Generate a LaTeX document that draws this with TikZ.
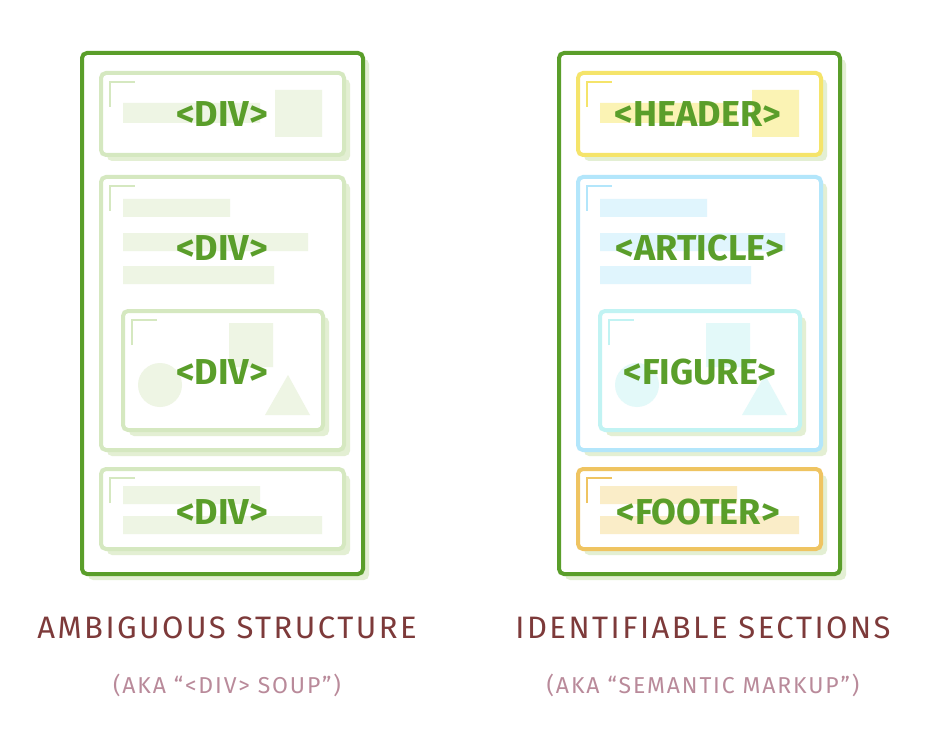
\documentclass[tikz,border=0pt]{standalone}
\usepackage{fontspec}
\setmainfont{Fira Sans}
\newfontfamily\capfont[LetterSpace=8]{Fira Sans}
\tikzset{x=1pt,y=-1pt}
\definecolor{og}{HTML}{5A9E2A}
\definecolor{sh}{HTML}{E3EFD3}
\definecolor{gb}{HTML}{D5E8C0}\definecolor{gf}{HTML}{EEF5E4}
\definecolor{yb}{HTML}{F5E46A}\definecolor{yf}{HTML}{FBF3B4}
\definecolor{bb}{HTML}{B3E6FB}\definecolor{bf}{HTML}{E0F5FD}
\definecolor{cb}{HTML}{C1F3F3}\definecolor{cf}{HTML}{E3F9F9}
\definecolor{ob}{HTML}{EFC461}\definecolor{of}{HTML}{FAEDC8}
\definecolor{cap}{HTML}{7D3A3A}\definecolor{sub}{HTML}{B98A9A}
\tikzset{
 tag/.style={text=og,font=\fontsize{36}{36}\selectfont\bfseries},
 ttl/.style={text=cap,font=\capfont\fontsize{31}{31}\selectfont},
 subt/.style={text=sub,font=\capfont\fontsize{23}{23}\selectfont},
}
\newcommand{\bx}[5]{% x1 y1 x2 y2 color
 \fill[sh,rounded corners=5] (#1+6,#2+6) rectangle (#3+6,#4+6);
 \draw[#5,line width=4,fill=white,rounded corners=5] (#1,#2) rectangle (#3,#4);
 \draw[#5,line width=2] (#1+9,#2+34) -- (#1+9,#2+9) -- (#1+34,#2+9);}
\begin{document}
\begin{tikzpicture}
\useasboundingbox (0,0) rectangle (934,738);
\foreach \dx/\hb/\hf/\ab/\af/\fb/\ff/\ob/\of in {0/gb/gf/gb/gf/gb/gf/gb/gf,477/yb/yf/bb/bf/cb/cf/ob/of}{
\begin{scope}[xshift=\dx]
\fill[sh,rounded corners=5] (88,59) rectangle (369,580);
\draw[og,line width=4,fill=white,rounded corners=5] (82,53) rectangle (363,574);
\bx{101}{73}{344}{155}{\hb}
\fill[\hf] (123,103) rectangle (260,123) (275,90) rectangle (322,137);
\bx{101}{177}{344}{450}{\ab}
\fill[\af] (123,199) rectangle (230,217) (123,233) rectangle (308,251) (123,266) rectangle (274,284);
\bx{123}{311}{323}{430}{\fb}
\fill[\ff] (229,323) rectangle (273,367) (160,385) circle (22) (265,415) -- (310,415) -- (288,375) -- cycle;
\bx{101}{469}{344}{549}{\ob}
\fill[\of] (123,486) rectangle (260,504) (123,516) rectangle (322,534);
\end{scope}}
\node[tag] (d1) at (222,114) {<DIV>};
\node[tag] (d2) at (222,248) {<DIV>};
\node[tag] (d3) at (222,372) {<DIV>};
\node[tag] (d4) at (222,512) {<DIV>};
\node[tag] (h) at (698,114) {<HEADER>};
\node[tag] (a) at (700,248) {<ARTICLE>};
\node[tag] (f) at (700,372) {<FIGURE>};
\node[tag] (ft) at (698,512) {<FOOTER>};
\node[ttl] (t1) at (227,628) {AMBIGUOUS STRUCTURE};
\node[subt] (s1) at (227,685) {(AKA “<DIV> SOUP”)};
\node[ttl] (t2) at (703,628) {IDENTIFIABLE SECTIONS};
\node[subt] (s2) at (703,685) {(AKA “SEMANTIC MARKUP”)};
\end{tikzpicture}
\end{document}
